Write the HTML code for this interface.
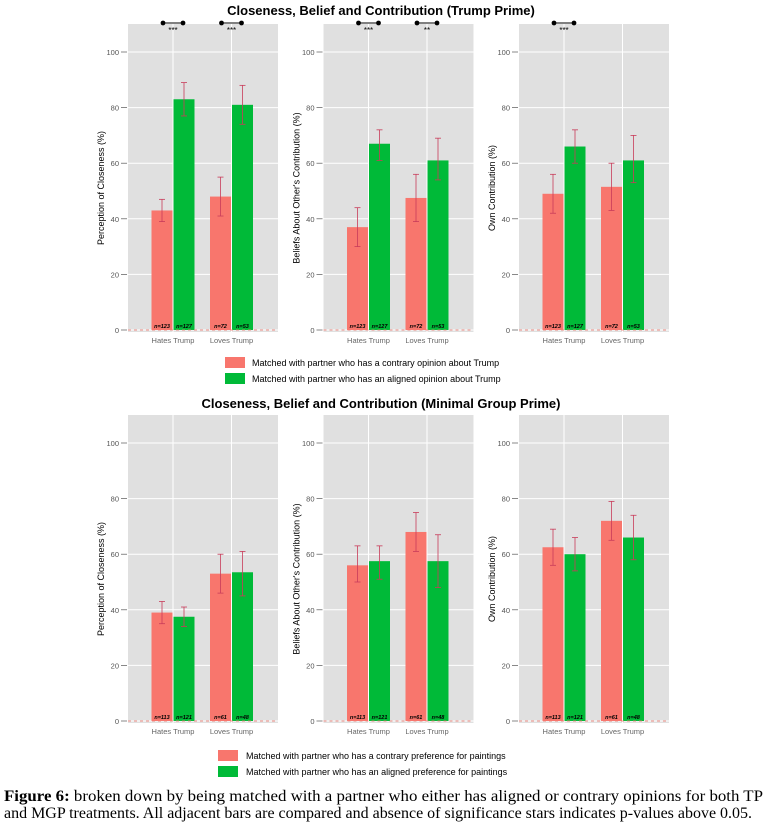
<!DOCTYPE html>
<html><head><meta charset="utf-8"><style>
body{margin:0;background:#fff;}
svg text{font-family:"Liberation Sans",sans-serif;}
</style></head><body>
<svg id="fig" width="773" height="822" xmlns="http://www.w3.org/2000/svg">
<text x="381" y="15" text-anchor="middle" font-size="13" font-weight="bold">Closeness, Belief and Contribution (Trump Prime)</text>
<text x="381" y="408" text-anchor="middle" font-size="13" font-weight="bold">Closeness, Belief and Contribution (Minimal Group Prime)</text>
<g id="legend-top">
<rect x="225" y="357" width="20" height="11" fill="#f8766d"/><text x="252" y="366" font-size="9">Matched with partner who has a contrary opinion about Trump</text>
<rect x="225" y="373" width="20" height="11" fill="#00ba38"/><text x="252" y="382" font-size="9">Matched with partner who has an aligned opinion about Trump</text>
</g>
<g id="legend-bottom">
<rect x="218" y="750" width="20" height="11" fill="#f8766d"/><text x="246" y="759" font-size="9">Matched with partner who has a contrary preference for paintings</text>
<rect x="218" y="766" width="20" height="11" fill="#00ba38"/><text x="246" y="775" font-size="9">Matched with partner who has an aligned preference for paintings</text>
</g>
<g font-size="15.5">
<text x="4" y="801" textLength="759" lengthAdjust="spacingAndGlyphs" style="font-family:'Liberation Serif',serif"><tspan font-weight="bold">Figure 6:</tspan> broken down by being matched with a partner who either has aligned or contrary opinions for both TP</text>
<text x="4" y="818" textLength="748" lengthAdjust="spacingAndGlyphs" style="font-family:'Liberation Serif',serif">and MGP treatments. All adjacent bars are compared and absence of significance stars indicates p-values above 0.05.</text>
</g>
</svg>
<script>
const groups = ["Hates Trump", "Loves Trump"];
const yTicks = [0, 20, 40, 60, 80, 100];
const yTitles = ["Perception of Closeness (%)", "Beliefs About Other's Contribution (%)", "Own Contribution (%)"];
// top row: [contraryHates, alignedHates, contraryLoves, alignedLoves]
const topMeans = [[43, 83, 48, 81], [37, 67, 47.5, 61], [49, 66, 51.5, 61]];
const topLow = [[39, 77, 41, 74], [30, 61, 39, 54], [42, 60, 43, 53]];
const topHigh = [[47, 89, 55, 88], [44, 72, 56, 69], [56, 72, 60, 70]];
const topN = ["n=123", "n=127", "n=72", "n=53"];
const topStars = [["***", "***"], ["***", "**"], ["***", ""]];
const botMeans = [[39, 37.5, 53, 53.5], [56, 57.5, 68, 57.5], [62.5, 60, 72, 66]];
const botLow = [[35, 34, 46, 45], [50, 51, 61, 48], [56, 54, 65, 58]];
const botHigh = [[43, 41, 60, 61], [63, 63, 75, 67], [69, 66, 79, 74]];
const botN = ["n=113", "n=121", "n=61", "n=48"];
const botStars = [["", ""], ["", ""], ["", ""]];

const NS = "http://www.w3.org/2000/svg";
const svg = document.getElementById("fig");
function mk(tag, attrs, parent, txt) {
  const e = document.createElementNS(NS, tag);
  for (const k in attrs) e.setAttribute(k, attrs[k]);
  if (txt !== undefined) e.textContent = txt;
  (parent || svg).appendChild(e);
  return e;
}
const panelX = [128, 323.5, 519];
const PW = 150;
function drawRow(top, bottom, zeroY, means, lows, highs, ns, stars, row) {
  for (let p = 0; p < 3; p++) {
    const x0 = panelX[p];
    const g = mk("g", {});
    
    
    const bg = mk("rect", {x: x0, y: top, width: PW, height: bottom - top, fill: "#e0e0e0"}, g);
    
    
    const yS = v => zeroY - v * 2.78;
    const xC = i => x0 + PW * (0.3 + 0.39 * i);
    yTicks.forEach(t => {
      mk("line", {x1: x0, x2: x0 + PW, y1: yS(t), y2: yS(t), stroke: "#fff", "stroke-width": 1}, g);
      mk("line", {x1: x0 - 7, x2: x0 - 1, y1: yS(t), y2: yS(t), stroke: "#555", "stroke-width": 0.7}, g);
      const tl = mk("text", {x: x0 - 9, y: yS(t) + 3, "text-anchor": "end", "font-size": 7.5, fill: "#555"}, g, t);
      
      
    });
    groups.forEach((gName, i) => {
      mk("line", {x1: xC(i), x2: xC(i), y1: top, y2: bottom, stroke: "#fff", "stroke-width": 1}, g);
      const xl = mk("text", {x: xC(i), y: bottom + 11, "text-anchor": "middle", "font-size": 7.5, fill: "#666"}, g, gName);
      
      
    });
    const yt = mk("text", {transform: `translate(${x0 - 24},${(top + bottom) / 2 + 10}) rotate(-90)`, "text-anchor": "middle", "font-size": 9}, g, yTitles[p]);
    
    
    for (let k = 0; k < 4; k++) {
      const gi = Math.floor(k / 2), s = k % 2;
      const cx = xC(gi) + (s === 0 ? -11 : 11);
      const b = mk("rect", {x: cx - 10.5, y: yS(means[p][k]), width: 21, height: zeroY - yS(means[p][k]), fill: s === 0 ? "#f8766d" : "#00ba38"}, g);
      
      
      const eb = mk("g", {stroke: "#c83c5a", "stroke-width": 0.8}, g);
      
      
      mk("line", {x1: cx, x2: cx, y1: yS(lows[p][k]), y2: yS(highs[p][k])}, eb);
      mk("line", {x1: cx - 3, x2: cx + 3, y1: yS(lows[p][k]), y2: yS(lows[p][k])}, eb);
      mk("line", {x1: cx - 3, x2: cx + 3, y1: yS(highs[p][k]), y2: yS(highs[p][k])}, eb);
      const nl = mk("text", {x: cx, y: zeroY - 2, "text-anchor": "middle", "font-size": 5.5, "font-style": "italic", "font-weight": "bold"}, g, ns[k]);
      
      
    }
    mk("line", {x1: x0, x2: x0 + PW, y1: zeroY, y2: zeroY, stroke: "#f8766d", "stroke-width": 0.8, "stroke-dasharray": "3,3"}, g);
    stars[p].forEach((st, i) => {
      if (!st) return;
      const by = top - 1;
      const sg = mk("g", {}, g);
      
      
      mk("line", {x1: xC(i) - 10, x2: xC(i) + 10, y1: by, y2: by, stroke: "#000", "stroke-width": 1}, sg);
      mk("circle", {cx: xC(i) - 10, cy: by, r: 2.4}, sg);
      mk("circle", {cx: xC(i) + 10, cy: by, r: 2.4}, sg);
      mk("text", {x: xC(i), y: by + 10, "text-anchor": "middle", "font-size": 8}, sg, st);
    });
  }
}
drawRow(24, 332, 330, topMeans, topLow, topHigh, topN, topStars, "top");
drawRow(415, 723, 721, botMeans, botLow, botHigh, botN, botStars, "bottom");
</script>
</body></html>
